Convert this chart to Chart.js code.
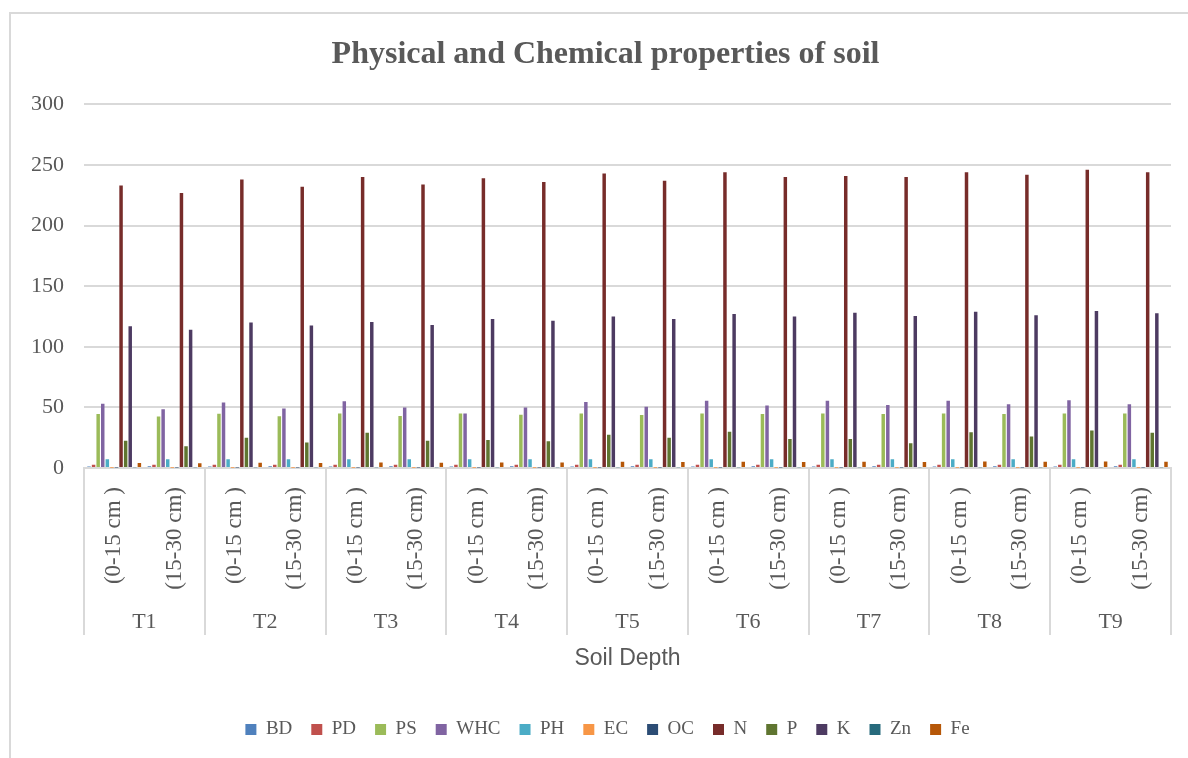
<!DOCTYPE html>
<html>
<head>
<meta charset="utf-8">
<script src="https://cdn.jsdelivr.net/npm/chart.js@4.4.1/dist/chart.umd.min.js"></script>
<style>
  html, body { margin: 0; padding: 0; background: #fff; }
  #wrap { position: absolute; left: 0; top: 0; width: 1188px; height: 758px; }
  #frame { position: absolute; left: 9px; top: 12px; width: 1200px; height: 800px;
           border-left: 2px solid #D9D9D9; border-top: 2px solid #D9D9D9; pointer-events: none; }
</style>
</head>
<body>
<div id="wrap"><canvas id="c" width="1188" height="758"></canvas></div>
<div id="frame"></div>
<script>
// ---- data ----
const depthLabels = ["(0-15 cm )", "(15-30 cm)", "(0-15 cm )", "(15-30 cm)", "(0-15 cm )", "(15-30 cm)",
                     "(0-15 cm )", "(15-30 cm)", "(0-15 cm )", "(15-30 cm)", "(0-15 cm )", "(15-30 cm)",
                     "(0-15 cm )", "(15-30 cm)", "(0-15 cm )", "(15-30 cm)", "(0-15 cm )", "(15-30 cm)"];
const treatments = ["T1", "T2", "T3", "T4", "T5", "T6", "T7", "T8", "T9"];
const yTicks = [0, 50, 100, 150, 200, 250, 300];

const BD  = [1.3, 1.4, 1.3, 1.4, 1.3, 1.4, 1.3, 1.4, 1.3, 1.4, 1.3, 1.4, 1.3, 1.4, 1.3, 1.4, 1.3, 1.4];
const PD  = [2.6, 2.6, 2.6, 2.6, 2.6, 2.6, 2.6, 2.6, 2.6, 2.6, 2.6, 2.6, 2.6, 2.6, 2.6, 2.6, 2.6, 2.6];
const PS  = [44.5, 42.5, 44.8, 42.8, 45, 43, 45, 44, 45, 43.8, 45, 44.5, 45, 44.5, 45, 44.5, 45, 45];
const WHC = [53, 48.5, 54, 49, 55, 50, 45, 50, 54.5, 50.6, 55.5, 51.5, 55.5, 52, 55.5, 52.5, 56, 52.6];
const PH  = [7.2, 7.3, 7.2, 7.3, 7.2, 7.3, 7.2, 7.3, 7.2, 7.3, 7.2, 7.3, 7.2, 7.3, 7.2, 7.3, 7.2, 7.3];
const EC  = [0.3, 0.3, 0.3, 0.3, 0.3, 0.3, 0.3, 0.3, 0.3, 0.3, 0.3, 0.3, 0.3, 0.3, 0.3, 0.3, 0.3, 0.3];
const OC  = [0.5, 0.4, 0.5, 0.4, 0.5, 0.4, 0.5, 0.4, 0.5, 0.4, 0.5, 0.4, 0.5, 0.4, 0.5, 0.4, 0.5, 0.4];
const N   = [233, 227, 238, 232, 240, 234, 239, 236, 243, 237, 244, 240, 241, 240, 244, 242, 246, 244];
const P   = [22.5, 18, 25, 21, 29, 22.5, 23, 22, 27.5, 25, 30, 24, 24, 20.5, 29.5, 26, 31, 29];
const K   = [117, 114, 120, 117.5, 120.5, 118, 123, 121.5, 125, 123, 127, 125, 128, 125.5, 129, 126, 129.5, 127.6];
const Zn  = [0.7, 0.6, 0.7, 0.6, 0.7, 0.6, 0.7, 0.6, 0.7, 0.6, 0.7, 0.6, 0.7, 0.6, 0.7, 0.6, 0.7, 0.6];
const Fe  = [4.2, 4.0, 4.3, 4.1, 4.5, 4.3, 4.6, 4.5, 5.2, 4.9, 5.2, 5.0, 5.2, 5.0, 5.3, 5.1, 5.3, 5.2];

const seriesNames  = ["BD", "PD", "PS", "WHC", "PH", "EC", "OC", "N", "P", "K", "Zn", "Fe"];
const seriesValues = [BD, PD, PS, WHC, PH, EC, OC, N, P, K, Zn, Fe];
const seriesColors = ["#4F81BD", "#C0504D", "#9BBB59", "#8064A2", "#4BACC6", "#F79646",
                      "#2C4D75", "#772C2A", "#5F7530", "#4D3B62", "#276A7C", "#B65708"];

const textColor = "#595959";
const gridColor = "#D9D9D9";
const serif = "'Liberation Serif', 'Times New Roman', serif";

const groupSeparators = {
  id: "groupSeparators",
  afterLayout(chart) {
    // centre title and legend like the reference (slightly right of canvas centre)
    chart.titleBlock.left += 20; chart.titleBlock.right += 20;
    chart.legend.left += 22; chart.legend.right += 22;
  },
  afterDraw(chart) {
    const x = chart.scales.x;
    const ctx = chart.ctx;
    const top = chart.chartArea.bottom;
    const bottom = 635;
    const n = x.ticks.length;
    const step = (x.getPixelForTick(1) - x.getPixelForTick(0));
    ctx.save();
    ctx.strokeStyle = gridColor;
    ctx.lineWidth = 2;
    for (let i = 0; i <= n; i += 2) {
      const px = Math.round(x.getPixelForTick(Math.min(i, n - 1)) + (i === n ? step / 2 : -step / 2));
      ctx.beginPath();
      ctx.moveTo(px, top);
      ctx.lineTo(px, bottom);
      ctx.stroke();
    }
    ctx.restore();
  }
};

new Chart(document.getElementById("c"), {
  type: "bar",
  data: {
    labels: depthLabels,
    datasets: seriesNames.map((name, i) => ({
      label: name,
      data: seriesValues[i],
      backgroundColor: seriesColors[i],
      borderWidth: 0,
      categoryPercentage: 0.91,
      barPercentage: 0.76,
      xAxisID: "x"
    }))
  },
  options: {
    responsive: false,
    animation: false,
    layout: { padding: { top: 26, right: 17, bottom: 9, left: 0 } },
    plugins: {
      title: {
        display: true,
        text: "Physical and Chemical properties of soil",
        color: textColor,
        font: { family: serif, size: 32, weight: "bold" },
        padding: { top: 10, bottom: 30 }
      },
      legend: {
        position: "bottom",
        labels: {
          color: textColor,
          font: { family: serif, size: 19 },
          boxWidth: 11,
          boxHeight: 11,
          padding: 19
        }
      },
      tooltip: { enabled: false }
    },
    scales: {
      x: {
        type: "category",
        position: "bottom",
        grid: { display: false },
        border: { display: true, color: gridColor, width: 2 },
        ticks: {
          color: textColor,
          font: { family: serif, size: 23 },
          minRotation: 90,
          maxRotation: 90,
          autoSkip: false,
          padding: 11
        },
        afterFit(scale) { scale.height = 129; }
      },
      x2: {
        type: "category",
        position: "bottom",
        labels: treatments,
        offset: true,
        grid: { display: false },
        border: { display: false },
        ticks: { color: textColor, font: { family: serif, size: 22 }, padding: 4, autoSkip: false, maxRotation: 0 },
        title: {
          display: true,
          text: "Soil Depth",
          color: textColor,
          font: { family: "'Liberation Sans', Arial, sans-serif", size: 23 },
          padding: { top: 5, bottom: 29 }
        }
      },
      y: {
        min: 0,
        max: 300,
        afterBuildTicks(scale) { scale.ticks = yTicks.map(v => ({ value: v })); },
        grid: { color: gridColor, lineWidth: 2, drawTicks: false },
        border: { display: false },
        ticks: { color: textColor, font: { family: serif, size: 22 }, padding: 20 },
        afterFit(scale) { scale.width = 84; }
      }
    }
  },
  plugins: [groupSeparators]
});
</script>
</body>
</html>
